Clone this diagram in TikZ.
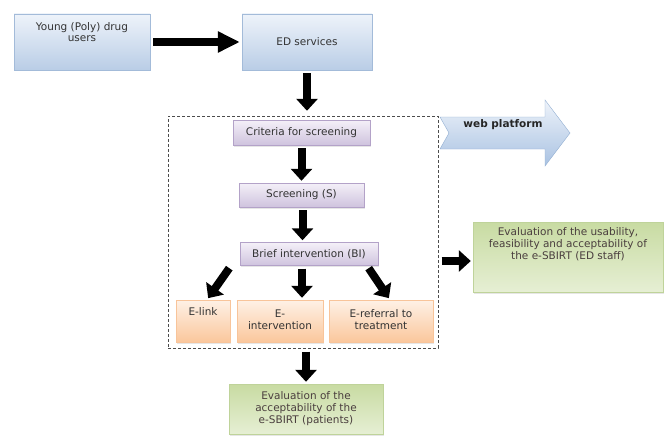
\documentclass[tikz,border=0pt]{standalone}
\usepackage{fontspec}
\setmainfont{DejaVu Sans}
\usepackage{xcolor}
\usetikzlibrary{arrows.meta, positioning, shadows}

\definecolor{blueedge}{HTML}{A3BBD9}
\definecolor{bluetop}{HTML}{EEF3FA}
\definecolor{bluebot}{HTML}{B9CDE6}
\definecolor{purpleedge}{HTML}{B3A2C8}
\definecolor{purpletop}{HTML}{F4F0F8}
\definecolor{purplebot}{HTML}{CFC3DE}
\definecolor{orangeedge}{HTML}{F8C49A}
\definecolor{orangetop}{HTML}{FEF1E6}
\definecolor{orangebot}{HTML}{FBC79C}
\definecolor{greenedge}{HTML}{BFD39A}
\definecolor{greendark}{HTML}{C8DBA2}
\definecolor{greenlight}{HTML}{E6EFD4}
\definecolor{greentext}{HTML}{4A3E3E}
\definecolor{webedge}{HTML}{93AFD2}
\definecolor{webbot}{HTML}{A9C2E2}

\begin{document}
\begin{tikzpicture}[x=1pt, y=-1pt, font=\fontsize{10.5}{12}\selectfont]
		% Styles
		\tikzstyle{base} = [draw, rectangle, align=center, inner sep=0pt, text=black!80, drop shadow={opacity=0.2, shadow xshift=1pt, shadow yshift=-1.5pt}]
		\tikzstyle{bluebox} = [base, draw=blueedge, top color=bluetop, bottom color=bluebot]
		\tikzstyle{purplebox} = [base, draw=purpleedge, top color=purpletop, bottom color=purplebot]
		\tikzstyle{orangebox} = [base, draw=orangeedge, top color=orangetop, bottom color=orangebot, minimum height=42pt]
		\tikzstyle{greenbox} = [base, draw=greenedge, top color=greendark, bottom color=greenlight, text=greentext]
		\tikzstyle{frame} = [draw=black!70, line width=1pt, dash pattern=on 3pt off 2pt]
		\tikzstyle{fat} = [line width=8pt, -{Triangle[length=12pt, width=21pt]}, shorten <=3pt, shorten >=2pt]

		\useasboundingbox (0,0) rectangle (664,436);

		% Nodes
		\node (frame) [frame, minimum width=270pt, minimum height=232pt] at (303,232) {};
		\node (users) [bluebox, minimum width=136pt, minimum height=56pt, text height=28pt, text depth=28pt] at (82,42) {Young (Poly) drug\\users};
		\node (ed) [bluebox, minimum width=130pt, minimum height=56pt] at (307,42) {ED services};
		\node (crit) [purplebox, minimum width=137pt, minimum height=25pt] at (301.5,132.5) {Criteria for screening};
		\node (scr) [purplebox, minimum width=125pt, minimum height=24pt] at (301.5,195) {Screening (S)};
		\node (bi) [purplebox, minimum width=138pt, minimum height=23pt] at (309,254) {Brief intervention (BI)};
		\node (elink) [orangebox, minimum width=54pt, text height=15pt, text depth=27pt] at (203,321) {E-link};
		\node (eint) [orangebox, minimum width=86pt, text height=29pt, text depth=13pt] at (280,321) {E-\\intervention};
		\node (eref) [orangebox, minimum width=104pt, text height=29pt, text depth=13pt] at (381,321) {E-referral to\\treatment};
		\node (pat) [greenbox, minimum width=154pt, minimum height=50pt] at (306,409) {Evaluation of the\\acceptability of the\\e-SBIRT (patients)};
		\node (staff) [greenbox, minimum width=190pt, minimum height=70pt, text height=37pt, text depth=33pt] at (568,257) {Evaluation of the usability,\\feasibility and acceptability of\\the e-SBIRT (ED staff)};

		% web platform arrow
		\shade [draw=webedge, top color=bluetop, bottom color=webbot] (440,117) -- (545,117) -- (545,100) -- (570,133) -- (545,166) -- (545,149) -- (440,149) -- (449,133) -- cycle;
		\node (web) [font=\fontsize{10.5}{12}\selectfont\bfseries, text=black!85] at (503,125) {web platform};

		% Connections
		\draw [fat, -{Triangle[length=22pt, width=20pt]}] (users) -- (ed);
		\draw [fat, shorten >=9pt] (ed) -- (ed |- crit.north);
		\draw [fat] (crit) -- (scr);
		\draw [fat] ([xshift=1pt]scr.south) -- ([xshift=1pt]scr.south |- bi.north);
		\draw [fat] ([xshift=-78pt]bi.south) -- ([xshift=4pt]elink.north);
		\draw [fat] ([xshift=-7pt]bi.south) -- ([xshift=22pt]eint.north);
		\draw [fat] ([xshift=58pt]bi.south) -- ([xshift=9pt]eref.north);
		\draw [fat] (frame.south -| pat) -- (pat);
		\draw [fat] ([yshift=-4pt]frame.east |- staff) -- ([yshift=-4pt]staff.west);

\end{tikzpicture}
\end{document}
